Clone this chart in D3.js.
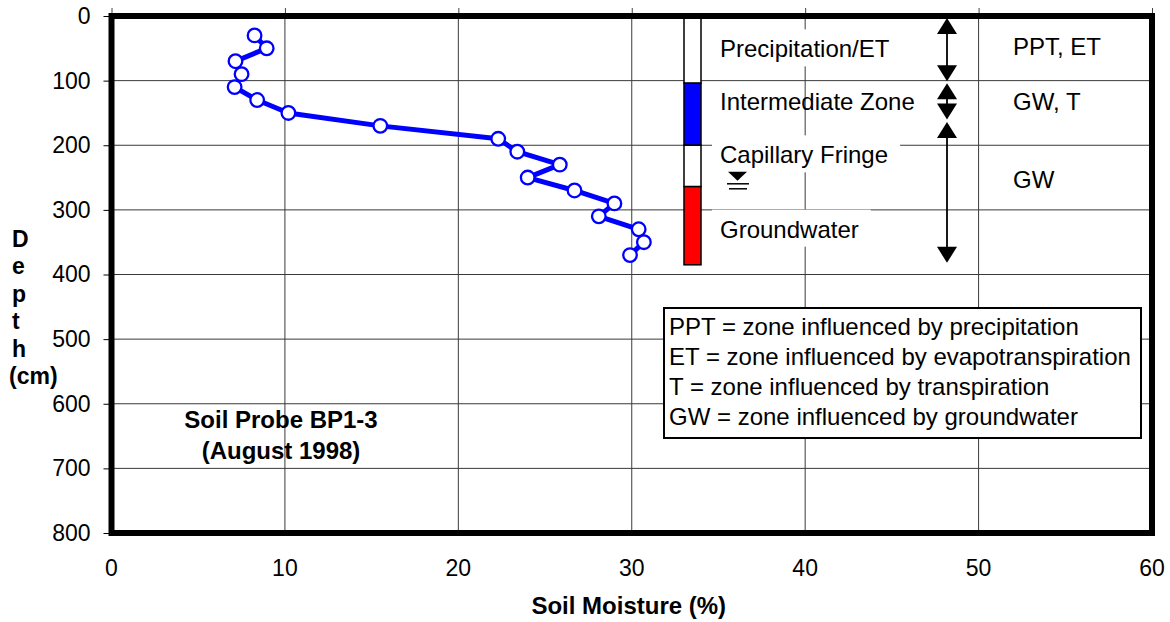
<!DOCTYPE html>
<html><head><meta charset="utf-8">
<script src="https://cdn.jsdelivr.net/npm/d3@7"></script>
<style>
body{margin:0;background:#fff;}
svg text{font-family:"Liberation Sans",Arial,sans-serif;}
</style></head>
<body><svg id="c" width="1170" height="622"></svg>
<script>
// ---- data ----
const depths   = [30, 50, 70, 90, 110, 130, 150, 170, 190, 210, 230, 250, 270, 290, 310, 330, 350, 370];
const moisture = [8.25, 8.95, 7.15, 7.5, 7.1, 8.4, 10.2, 15.5, 22.3, 23.4, 25.85, 24.0, 26.7, 29.0, 28.1, 30.4, 30.7, 29.9];
const xTicks = [0, 10, 20, 30, 40, 50, 60];
const yTicks = [0, 100, 200, 300, 400, 500, 600, 700, 800];
const zoneNames  = ["Precipitation/ET", "Intermediate Zone", "Capillary Fringe", "Groundwater"];
const zoneTops   = [3, 104, 200, 264];
const zoneBottoms= [104, 200, 264, 385];
const zoneColors = ["#ffffff", "#0000ff", "#ffffff", "#ff0000"];
const zoneLabelDepth = [64, 146, 228, 343];
const zoneLabelBg = [true, false, true, true];
const influenceLabels = ["PPT, ET", "GW, T", "GW"];
const influenceDepth  = [61, 146, 266];
const arrowStarts = [3, 104, 164];
const arrowEnds   = [101, 160, 382];
const waterTableDepth = 255;
const notes = ["PPT = zone influenced by precipitation", "ET = zone influenced by evapotranspiration",
               "T = zone influenced by transpiration", "GW = zone influenced by groundwater"];
const probeTitle = ["Soil Probe BP1-3", "(August 1998)"];
const yLabelParts = ["D", "e", "p", "t", "h", "(cm)"];
const xTitle = "Soil Moisture (%)";

// ---- layout ----
const svg = d3.select("#c");
const x = d3.scaleLinear().domain([0, 60]).range([111.5, 1152]);
const y = d3.scaleLinear().domain([0, 800]).range([16, 533]);
const FS = 24;

// gridlines
const grid = svg.append("g").attr("stroke", "#3a3a3a").attr("stroke-width", 1);
grid.selectAll("line.h").data(yTicks.slice(1, -1)).join("line")
  .attr("x1", x(0)).attr("x2", x(60)).attr("y1", d => y(d)).attr("y2", d => y(d));
grid.selectAll("line.v").data(xTicks.slice(1, -1)).join("line")
  .attr("y1", y(0)).attr("y2", y(800)).attr("x1", d => x(d)).attr("x2", d => x(d));

// y axis ticks & labels
const yAxis = d3.axisLeft(y).tickValues(yTicks).tickSize(8).tickPadding(13);
const ya = svg.append("g").attr("transform", `translate(${x(0)},0)`).call(yAxis);
ya.select(".domain").remove();
ya.selectAll("line").attr("stroke", "#000");
ya.selectAll("text").attr("font-size", 23).attr("font-family", "Liberation Sans, Arial").attr("fill", "#000");

// top ticks
const xTop = d3.axisTop(x).tickValues(xTicks).tickSize(8).tickFormat("");
const xt = svg.append("g").attr("transform", `translate(0,${y(0)})`).call(xTop);
xt.select(".domain").remove();
xt.selectAll("line").attr("stroke", "#444");

// x labels
svg.append("g").selectAll("text").data(xTicks).join("text")
  .attr("x", d => x(d)).attr("y", 576).attr("text-anchor", "middle")
  .attr("font-size", 23).text(d => d);

// axis titles
svg.append("text").attr("x", x(30) - 3).attr("y", 614).attr("text-anchor", "middle")
  .attr("font-size", FS).attr("font-weight", "bold").text(xTitle);
svg.append("g").selectAll("text").data(yLabelParts).join("text")
  .attr("x", (d, i) => i === 5 ? 9 : 12).attr("y", (d, i) => 247 + i * 27.4)
  .attr("font-size", 23).attr("font-weight", "bold").text(d => d);

// zone color bar
const barX = 684, barW = 17;
svg.append("g").selectAll("rect").data(zoneNames).join("rect")
  .attr("x", barX).attr("width", barW)
  .attr("y", (d, i) => y(zoneTops[i])).attr("height", (d, i) => y(zoneBottoms[i]) - y(zoneTops[i]))
  .attr("fill", (d, i) => zoneColors[i]).attr("stroke", "#000").attr("stroke-width", 1.5);

// zone labels
const zl = svg.append("g");
zoneNames.forEach((n, i) => {
  const by = y(zoneLabelDepth[i]);
  const t = zl.append("text").attr("x", 720).attr("y", by).attr("font-size", FS).text(n);
  if (zoneLabelBg[i]) {
    const w = t.node().getComputedTextLength();
    zl.insert("rect", () => t.node()).attr("x", 712).attr("y", by - 28)
      .attr("width", w + 20).attr("height", 37).attr("fill", "#fff");
  }
});

// water table symbol
const wy = y(waterTableDepth);
const ws = svg.append("g").attr("fill", "#000").attr("stroke", "#000");
ws.append("path").attr("d", `M728,${wy - 9}L747,${wy - 9}L737.5,${wy}Z`).attr("stroke", "none");
ws.append("line").attr("x1", 727).attr("x2", 749).attr("y1", wy + 3).attr("y2", wy + 3).attr("stroke-width", 1.5);
ws.append("line").attr("x1", 729).attr("x2", 747).attr("y1", wy + 8).attr("y2", wy + 8).attr("stroke-width", 1.5);

// influence labels
svg.append("g").selectAll("text").data(influenceLabels).join("text")
  .attr("x", 1013).attr("y", (d, i) => y(influenceDepth[i])).attr("font-size", FS).text(d => d);

// arrows
const ax = 947, ah = 16, aw = 10;
const ag = svg.append("g");
arrowStarts.forEach((s, i) => {
  const y1 = y(s), y2 = y(arrowEnds[i]);
  ag.append("line").attr("x1", ax).attr("x2", ax).attr("y1", y1 + ah - 2).attr("y2", y2 - ah + 2)
    .attr("stroke", "#000").attr("stroke-width", 1.8);
  ag.append("path").attr("d", `M${ax},${y1}L${ax + aw},${y1 + ah}L${ax - aw},${y1 + ah}Z`).attr("fill", "#000");
  ag.append("path").attr("d", `M${ax},${y2}L${ax + aw},${y2 - ah}L${ax - aw},${y2 - ah}Z`).attr("fill", "#000");
});

// notes box
const nb = svg.append("g");
nb.append("rect").attr("x", 664).attr("y", 308).attr("width", 477).attr("height", 130)
  .attr("fill", "#fff").attr("stroke", "#000").attr("stroke-width", 2);
nb.selectAll("text").data(notes).join("text")
  .attr("x", 669).attr("y", (d, i) => 335 + i * 30).attr("font-size", FS).text(d => d);

// probe title
svg.append("g").selectAll("text").data(probeTitle).join("text")
  .attr("x", 281).attr("y", (d, i) => 428 + i * 31).attr("text-anchor", "middle")
  .attr("font-size", FS).attr("font-weight", "bold").text(d => d);

// data line
const pts = depths.map((d, i) => [moisture[i], d]);
svg.append("path").datum(pts)
  .attr("d", d3.line().x(d => x(d[0])).y(d => y(d[1])))
  .attr("fill", "none").attr("stroke", "#0000ff").attr("stroke-width", 5).attr("stroke-linejoin", "round");
svg.append("g").selectAll("circle").data(pts).join("circle")
  .attr("cx", d => x(d[0])).attr("cy", d => y(d[1])).attr("r", 6.8)
  .attr("fill", "#fff").attr("stroke", "#0000ff").attr("stroke-width", 2.3);

// frame
svg.append("rect").attr("x", x(0)).attr("y", y(0)).attr("width", x(60) - x(0)).attr("height", y(800) - y(0))
  .attr("fill", "none").attr("stroke", "#000").attr("stroke-width", 6);
</script></body></html>
